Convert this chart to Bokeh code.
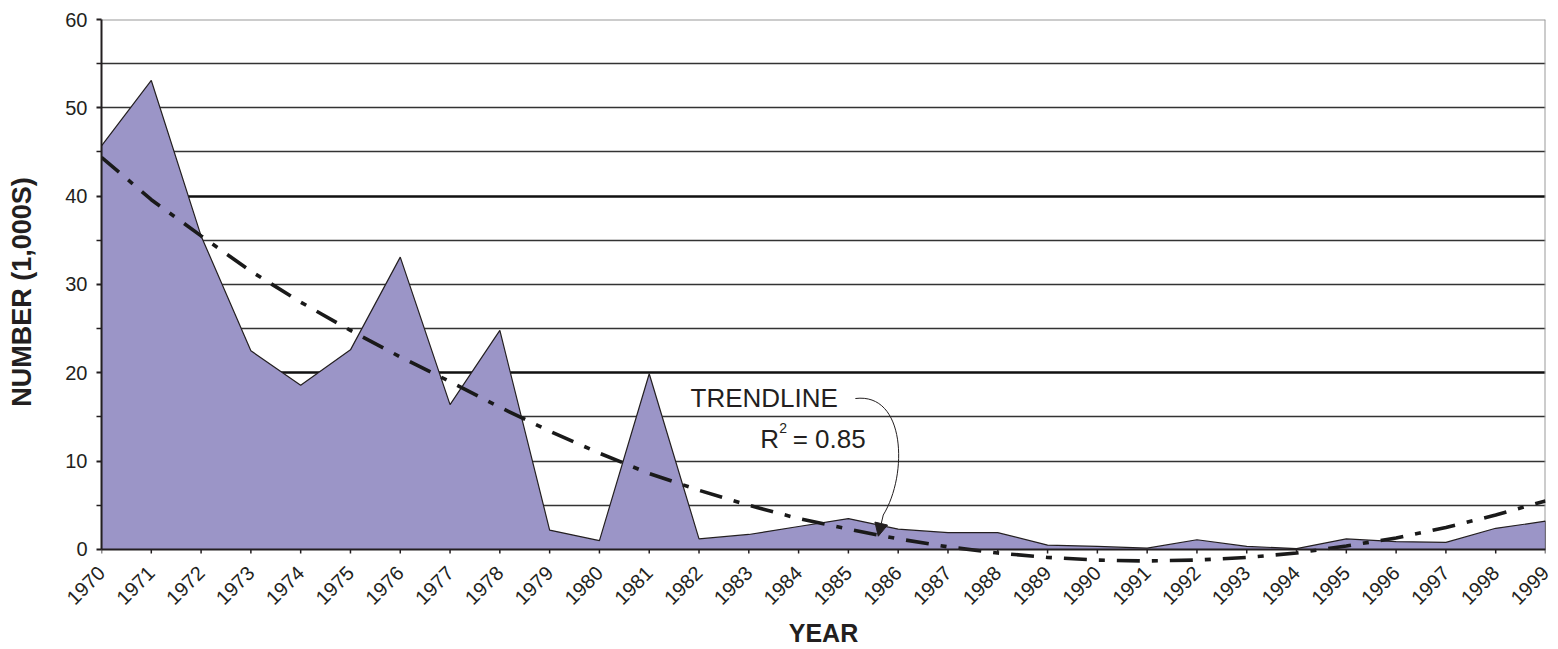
import math
from bokeh.plotting import figure
from bokeh.models import FixedTicker, Grid, Label, Arrow, NormalHead, Range1d, Span
from bokeh.embed import file_html
from bokeh.resources import INLINE

years = list(range(1970, 2000))
number_k = [45.7, 53.1, 35.5, 22.5, 18.6, 22.6, 33.1, 16.4, 24.8, 2.2,
            1.0, 19.9, 1.2, 1.7, 2.6, 3.5, 2.3, 1.9, 1.9, 0.5,
            0.35, 0.15, 1.1, 0.35, 0.1, 1.2, 0.9, 0.8, 2.4, 3.2]
trend_k = [44.4, 39.6, 35.5, 31.5, 28.0, 24.8, 21.8, 19.0, 16.1, 13.4,
           10.9, 8.6, 6.7, 5.0, 3.5, 2.3, 1.2, 0.3, -0.4, -0.9,
           -1.2, -1.3, -1.2, -0.9, -0.4, 0.4, 1.3, 2.5, 3.9, 5.5]
y_ticks = [0, 10, 20, 30, 40, 50, 60]
y_minor = [5, 15, 25, 35, 45, 55]
thin_grid = [5, 10, 15, 25, 30, 35, 45, 50, 55]
thick_grid = [20, 40]

FONT = "Liberation Sans"
INK = "#231f20"

p = figure(width=1558, height=649, output_backend="svg", toolbar_location=None,
           x_range=Range1d(years[0], years[-1]), y_range=Range1d(-1.7, 60),
           min_border_left=101, min_border_right=13, min_border_top=19,
           min_border_bottom=85)
p.background_fill_color = "white"
p.border_fill_color = "white"
p.outline_line_color = None

# grids
p.xgrid.visible = False
p.ygrid.ticker = FixedTicker(ticks=thin_grid)
p.ygrid.grid_line_color = "#333333"
p.ygrid.grid_line_width = 1.4
p.add_layout(Grid(dimension=1, ticker=FixedTicker(ticks=thick_grid),
                  grid_line_color="#111111", grid_line_width=2.3))

# light top / right border of the plot area
p.line([years[0], years[-1]], [y_ticks[-1], y_ticks[-1]], line_color="#9a9a9a", line_width=2)
p.line([years[-1], years[-1]], [y_ticks[0], y_ticks[-1]], line_color="#9a9a9a", line_width=2)

# area
xs = years + [years[-1], years[0]]
ys = number_k + [0, 0]
p.patch(xs, ys, fill_color="#9b95c7", line_color=INK, line_width=1.2)

# trendline
p.line(years, trend_k, line_color="#1a1a1a", line_width=3.6,
       line_dash="23 12 6 12")

# x axis line at zero with small tick marks
p.segment(x0=years, y0=[0] * len(years), x1=years, y1=[-0.45] * len(years),
          line_color=INK, line_width=1.5)
p.add_layout(Span(location=0, dimension="width", line_color=INK, line_width=2.2))

# y axis
yax = p.yaxis[0]
yax.ticker = FixedTicker(ticks=y_ticks, minor_ticks=y_minor)
yax.bounds = (y_ticks[0], y_ticks[-1])
yax.axis_line_color = INK
yax.axis_line_width = 2
yax.major_tick_line_color = INK
yax.major_tick_line_width = 2
yax.major_tick_out = 5
yax.major_tick_in = 0
yax.minor_tick_line_color = INK
yax.minor_tick_line_width = 1.5
yax.minor_tick_out = 5
yax.minor_tick_in = 0
yax.major_label_text_font = FONT
yax.major_label_text_font_size = "20px"
yax.major_label_text_color = INK
yax.major_label_standoff = 9
yax.axis_label = "NUMBER (1,000S)"
yax.axis_label_text_font = FONT
yax.axis_label_text_font_size = "27px"
yax.axis_label_text_font_style = "bold"
yax.axis_label_text_color = INK
yax.axis_label_standoff = 25

# x axis (labels only; the visible line is drawn at zero)
xax = p.xaxis[0]
xax.ticker = FixedTicker(ticks=years)
xax.axis_line_color = None
xax.major_tick_line_color = None
xax.major_tick_out = 0
xax.major_tick_in = 0
xax.minor_tick_line_color = None
xax.major_label_orientation = math.pi / 4
xax.major_label_text_font = FONT
xax.major_label_text_font_size = "20px"
xax.major_label_text_color = INK
xax.major_label_standoff = 5
xax.axis_label = "YEAR"
xax.axis_label_text_font = FONT
xax.axis_label_text_font_size = "25px"
xax.axis_label_text_font_style = "bold"
xax.axis_label_text_color = INK
xax.axis_label_standoff = 5

# annotation
p.add_layout(Label(x=1981.83, y=17.2, text="TRENDLINE", text_font=FONT,
                   text_font_size="26px", text_color=INK,
                   text_baseline="alphabetic"))
p.add_layout(Label(x=1983.23, y=12.55, text="R", text_font=FONT,
                   text_font_size="26px", text_color=INK,
                   text_baseline="alphabetic"))
p.add_layout(Label(x=1983.61, y=13.7, text="2", text_font=FONT,
                   text_font_size="14px", text_color=INK,
                   text_baseline="alphabetic"))
p.add_layout(Label(x=1983.88, y=12.55, text="= 0.85", text_font=FONT,
                   text_font_size="26px", text_color=INK,
                   text_baseline="alphabetic"))
p.bezier(x0=[1985.14], y0=[17.09], x1=[1985.70], y1=[3.9],
         cx0=[1986.15], cy0=[17.8], cx1=[1986.20], cy1=[8.5],
         line_color=INK, line_width=1)
p.add_layout(Arrow(end=NormalHead(size=13, fill_color=INK, line_color=INK),
                   x_start=1985.70, y_start=3.9, x_end=1985.60, y_end=1.5,
                   line_color=INK, line_width=1))

open("out.html", "w").write(file_html(p, INLINE))
